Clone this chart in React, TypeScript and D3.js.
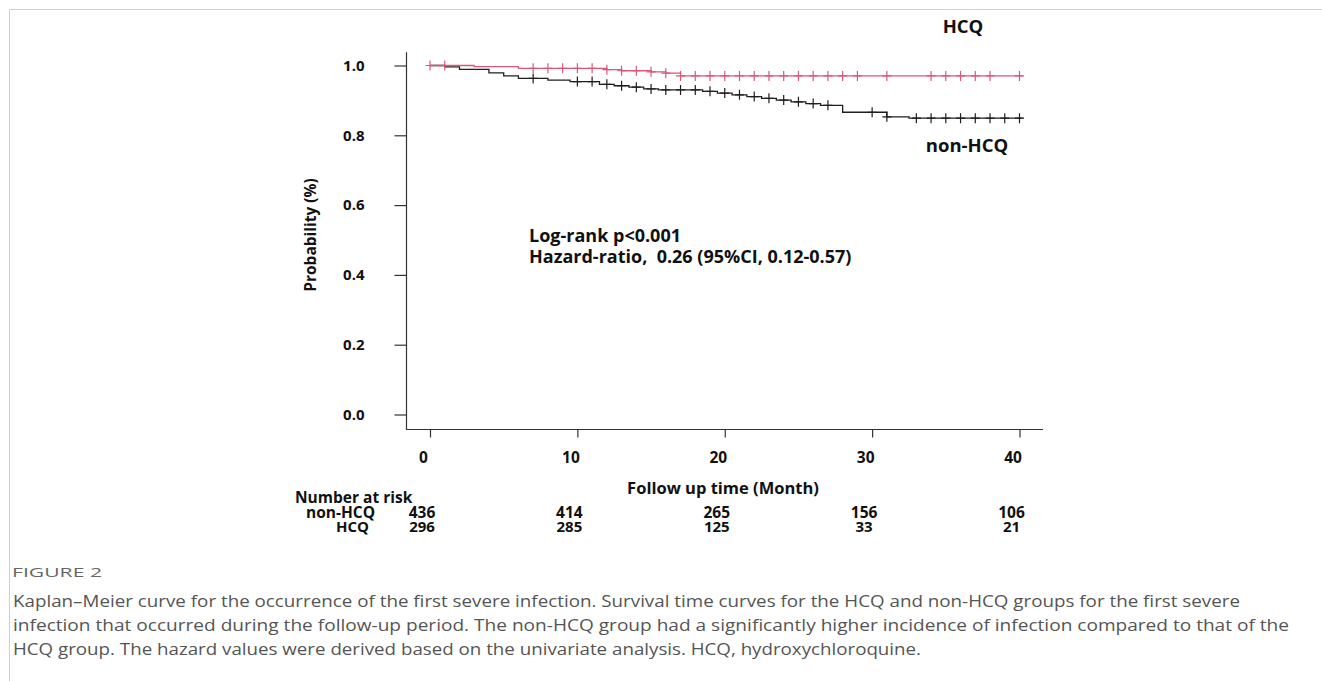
import { useEffect, useRef } from "react";
import * as d3 from "d3";

// Kaplan-Meier step values (month, survival)
const hcqTimes = [0, 3, 6, 12, 13, 15, 16, 17];
const hcqSurv = [1.0, 0.997, 0.992, 0.988, 0.985, 0.982, 0.978, 0.97];
const hcqCensor = [0, 1, 7, 8, 9, 10, 11, 12, 13, 14, 15, 16, 17, 18, 19, 20, 21, 22, 23, 24, 25, 26, 27, 28, 29, 31, 34, 35, 36, 37, 38, 40];

const nonTimes = [0, 1, 2, 4, 5, 6, 8, 9.5, 11.5, 12.5, 13.5, 14.5, 15.5, 18.5, 19.5, 20.5, 21.5, 22.5, 23.5, 24.5, 25.5, 26.5, 28, 31, 32.5];
const nonSurv = [1.0, 0.996, 0.989, 0.979, 0.97, 0.963, 0.958, 0.954, 0.946, 0.942, 0.938, 0.933, 0.93, 0.926, 0.921, 0.916, 0.911, 0.906, 0.901, 0.896, 0.891, 0.886, 0.866, 0.853, 0.849];
const nonCensor = [7, 10, 11, 12, 13, 14, 15, 16, 17, 18, 19, 20, 21, 22, 23, 24, 25, 26, 27, 30, 31, 33, 34, 35, 36, 37, 38, 39, 40];

const END_MONTH = 40.2;
const xTicks = [0, 10, 20, 30, 40];
const yTicks = [0, 0.2, 0.4, 0.6, 0.8, 1.0];
const riskNon = [436, 414, 265, 156, 106];
const riskHcq = [296, 285, 125, 33, 21];

const captionLines = [
  "Kaplan\u2013Meier curve for the occurrence of the first severe infection. Survival time curves for the HCQ and non-HCQ groups for the first severe",
  "infection that occurred during the follow-up period. The non-HCQ group had a significantly higher incidence of infection compared to that of the",
  "HCQ group. The hazard values were derived based on the univariate analysis. HCQ, hydroxychloroquine.",
];
const captionWidths = [1227, 1276, 908];

const W = 1322;
const H = 681;
const PINK = "#d9587a";
const DARK = "#1e1e1e";
const FONT = "'Open Sans', 'Noto Sans', sans-serif";

function stepValue(times: number[], surv: number[], t: number) {
  let v = surv[0];
  times.forEach((tt, i) => {
    if (tt <= t) v = surv[i];
  });
  return v;
}

export default function App() {
  const svgRef = useRef<SVGSVGElement>(null);

  useEffect(() => {
    const svg = d3.select(svgRef.current);
    svg.selectAll("*").remove();

    const x = d3.scaleLinear().domain([0, 40]).range([430, 1019.5]);
    const y = d3.scaleLinear().domain([0, 1]).range([414.5, 65.5]);

    // figure frame
    svg.append("line").attr("x1", 9.5).attr("x2", W).attr("y1", 9.5).attr("y2", 9.5).attr("stroke", "#cfcfcf");
    svg.append("line").attr("x1", 9.5).attr("x2", 9.5).attr("y1", 9.5).attr("y2", H).attr("stroke", "#cfcfcf");

    const plot = svg.append("g").attr("font-family", FONT);

    // axes
    plot
      .append("line")
      .attr("x1", 406.5)
      .attr("x2", 406.5)
      .attr("y1", y(1.038))
      .attr("y2", 429.5)
      .attr("stroke", "#333")
      .attr("stroke-width", 1.2);
    plot
      .append("line")
      .attr("x1", 406)
      .attr("x2", x(41.6))
      .attr("y1", 429.5)
      .attr("y2", 429.5)
      .attr("stroke", "#333")
      .attr("stroke-width", 1.2);

    plot
      .append("g")
      .attr("transform", "translate(406.5,0)")
      .call(d3.axisLeft(y).tickValues(yTicks).tickSize(12).tickPadding(30).tickFormat(d3.format(".1f")))
      .call((g) => g.select(".domain").remove())
      .call((g) => g.selectAll("line").attr("stroke", "#333").attr("stroke-width", 1.2))
      .call((g) =>
        g
          .selectAll("text")
          .attr("fill", "#111")
          .attr("font-family", FONT)
          .attr("font-size", 15)
          .attr("font-weight", 700)
      );

    plot
      .append("g")
      .attr("transform", "translate(0,429.5)")
      .call(d3.axisBottom(x).tickValues(xTicks).tickSize(8).tickPadding(0).tickFormat(d3.format("d")))
      .call((g) => g.select(".domain").remove())
      .call((g) => g.selectAll("line").attr("stroke", "#333").attr("stroke-width", 1.2))
      .call((g) =>
        g
          .selectAll("text")
          .attr("x", -7)
          .attr("y", 33)
          .attr("dy", 0)
          .attr("fill", "#111")
          .attr("font-family", FONT)
          .attr("font-size", 15.5)
          .attr("font-weight", 700)
      );

    // curves
    const line = d3
      .line<[number, number]>()
      .x((d) => x(d[0]))
      .y((d) => y(d[1]))
      .curve(d3.curveStepAfter);

    const series = [
      { times: nonTimes, surv: nonSurv, censor: nonCensor, color: DARK },
      { times: hcqTimes, surv: hcqSurv, censor: hcqCensor, color: PINK },
    ];

    series.forEach((s) => {
      const pts: [number, number][] = s.times.map((t, i) => [t, s.surv[i]]);
      pts.push([END_MONTH, s.surv[s.surv.length - 1]]);
      plot
        .append("path")
        .attr("d", line(pts))
        .attr("fill", "none")
        .attr("stroke", s.color)
        .attr("stroke-width", 1.3);

      s.censor.forEach((t) => {
        const cx = x(t);
        const cy = y(stepValue(s.times, s.surv, t));
        plot
          .append("path")
          .attr("d", `M${cx},${cy - 5}V${cy + 5}M${cx - 4.5},${cy}H${cx + 4.5}`)
          .attr("stroke", s.color)
          .attr("stroke-width", 1.2);
      });
    });

    // text labels
    const label = (txt: string, lx: number, ly: number, size: number, anchor = "middle") =>
      plot
        .append("text")
        .attr("x", lx)
        .attr("y", ly)
        .attr("text-anchor", anchor)
        .attr("font-size", size)
        .attr("font-weight", 700)
        .attr("fill", "#111")
        .text(txt);

    label("HCQ", 963, 33, 18.5);
    label("non-HCQ", 967, 152, 18.5);
    label("Log-rank p<0.001", 529, 242, 18, "start");
    label("Hazard-ratio,\u00a0 0.26 (95%CI, 0.12-0.57)", 529, 263, 18, "start");
    label("Follow up time (Month)", 723, 494, 16.5);

    plot
      .append("text")
      .attr("transform", "translate(316,235) rotate(-90)")
      .attr("text-anchor", "middle")
      .attr("font-size", 15.5)
      .attr("font-weight", 700)
      .attr("fill", "#111")
      .text("Probability (%)");

    // number at risk table
    label("Number at risk", 295, 503, 15.5, "start");
    label("non-HCQ", 375, 518, 15.5, "end");
    label("HCQ", 369, 532, 15, "end");
    xTicks.forEach((t, i) => {
      label(String(riskNon[i]), x(t) - 8, 518, 15.5);
      label(String(riskHcq[i]), x(t) - 8, 532, 15);
    });

    // caption
    svg
      .append("text")
      .attr("x", 12)
      .attr("y", 577)
      .attr("font-family", FONT)
      .attr("font-size", 13)
      .attr("fill", "#666")
      .attr("textLength", 90)
      .attr("lengthAdjust", "spacingAndGlyphs")
      .text("FIGURE 2");

    captionLines.forEach((txt, i) => {
      svg
        .append("text")
        .attr("x", 13)
        .attr("y", 607 + i * 24)
        .attr("font-family", FONT)
        .attr("font-size", 16.5)
        .attr("fill", "#555")
        .attr("textLength", captionWidths[i])
        .attr("lengthAdjust", "spacingAndGlyphs")
        .text(txt);
    });
  }, []);

  return (
    <svg
      ref={svgRef}
      width={W}
      height={H}
      style={{ position: "absolute", left: 0, top: 0, background: "#fff" }}
    />
  );
}
